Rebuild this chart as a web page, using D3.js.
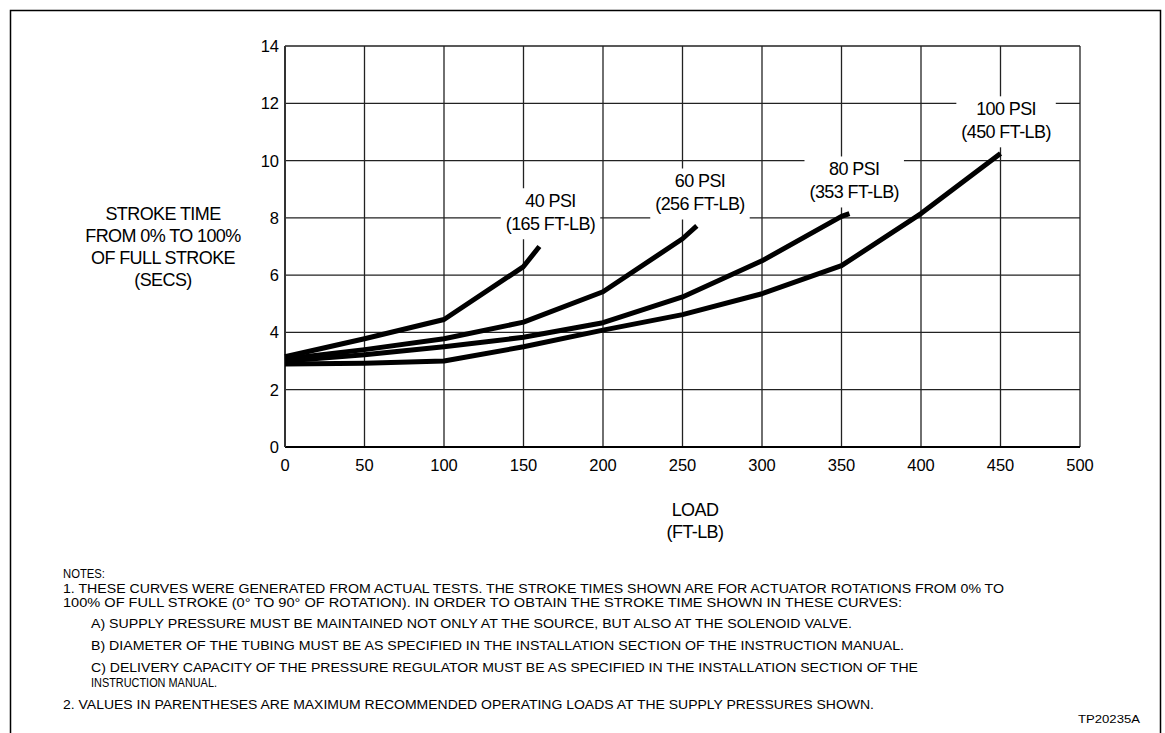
<!DOCTYPE html>
<html>
<head>
<meta charset="utf-8">
<script src="https://cdn.jsdelivr.net/npm/d3@7"></script>
<style>
  body { margin: 0; background: #fff; }
  text { font-family: "Liberation Sans", Arial, sans-serif; fill: #000; }
</style>
</head>
<body>
<div id="chart"></div>
<script>
// Data
const loads40 = [0, 50, 100, 150, 160];
const time40 = [3.15, 3.78, 4.45, 6.3, 7.0];
const loads60 = [0, 50, 100, 150, 200, 250, 259];
const time60 = [3.07, 3.4, 3.78, 4.36, 5.42, 7.27, 7.72];
const loads80 = [0, 50, 100, 150, 200, 250, 300, 350, 355];
const time80 = [3.0, 3.22, 3.5, 3.83, 4.34, 5.24, 6.5, 8.05, 8.15];
const loads100 = [0, 50, 100, 150, 200, 250, 300, 350, 400, 450];
const time100 = [2.9, 2.92, 3.0, 3.5, 4.08, 4.62, 5.35, 6.33, 8.15, 10.25];

const pressures = ["40 PSI", "60 PSI", "80 PSI", "100 PSI"];
const maxLoads = ["(165 FT-LB)", "(256 FT-LB)", "(353 FT-LB)", "(450 FT-LB)"];

const xTicks = [0, 50, 100, 150, 200, 250, 300, 350, 400, 450, 500];
const yTicks = [0, 2, 4, 6, 8, 10, 12, 14];

const yTitle = ["STROKE TIME", "FROM 0% TO 100%", "OF FULL STROKE", "(SECS)"];
const xTitle = ["LOAD", "(FT-LB)"];

const notes = [
  "NOTES:",
  "1. THESE CURVES WERE GENERATED FROM ACTUAL TESTS. THE STROKE TIMES SHOWN ARE FOR ACTUATOR ROTATIONS FROM 0% TO",
  "100% OF FULL STROKE (0\u00B0 TO 90\u00B0 OF ROTATION). IN ORDER TO OBTAIN THE STROKE TIME SHOWN IN THESE CURVES:",
  "A) SUPPLY PRESSURE MUST BE MAINTAINED NOT ONLY AT THE SOURCE, BUT ALSO AT THE SOLENOID VALVE.",
  "B) DIAMETER OF THE TUBING MUST BE AS SPECIFIED IN THE INSTALLATION SECTION OF THE INSTRUCTION MANUAL.",
  "C) DELIVERY CAPACITY OF THE PRESSURE REGULATOR MUST BE AS SPECIFIED IN THE INSTALLATION SECTION OF THE",
  "INSTRUCTION MANUAL.",
  "2. VALUES IN PARENTHESES ARE MAXIMUM RECOMMENDED OPERATING LOADS AT THE SUPPLY PRESSURES SHOWN."
];
const docId = "TP20235A";

// Layout
const W = 1165, H = 733;
const plot = { left: 285, right: 1080, top: 46, bottom: 447 };
// label anchor (data units) for each curve label
const labelAt = [[167, 8.37], [261, 9.06], [358, 9.48], [453.5, 11.58]];
// note line layout: x, baseline, width
const noteLayout = [
  [63, 578, 42], [63, 593, 941], [63, 607, 839], [91, 628, 761],
  [91, 650, 813], [91, 672, 827], [91, 687, 126], [63, 709, 811]
];

const svg = d3.select("#chart").append("svg")
  .attr("width", W).attr("height", H);

// outer frame (open at bottom)
svg.append("path")
  .attr("d", `M10.5,${H} V10.5 H1160.5 V${H}`)
  .attr("fill", "none").attr("stroke", "#000").attr("stroke-width", 1.5);

const x = d3.scaleLinear().domain([0, 500]).range([plot.left, plot.right]);
const y = d3.scaleLinear().domain([0, 14]).range([plot.bottom, plot.top]);

// grid
const grid = svg.append("g").attr("stroke", "#222").attr("stroke-width", 1.3);
grid.selectAll(".gx").data(xTicks).enter().append("line")
  .attr("x1", d => x(d)).attr("x2", d => x(d))
  .attr("y1", plot.top).attr("y2", plot.bottom);
grid.selectAll(".gy").data(yTicks).enter().append("line")
  .attr("x1", plot.left).attr("x2", plot.right)
  .attr("y1", d => y(d)).attr("y2", d => y(d));

// heavier axis lines
svg.append("line").attr("x1", plot.left).attr("x2", plot.right)
  .attr("y1", plot.bottom).attr("y2", plot.bottom)
  .attr("stroke", "#000").attr("stroke-width", 2.2);
svg.append("line").attr("x1", plot.left).attr("x2", plot.left)
  .attr("y1", plot.top).attr("y2", plot.bottom)
  .attr("stroke", "#333").attr("stroke-width", 2);

// tick labels
svg.append("g").selectAll("text").data(xTicks).enter().append("text")
  .attr("x", d => x(d)).attr("y", plot.bottom + 24)
  .attr("text-anchor", "middle").attr("font-size", 16.5)
  .text(d => d);
svg.append("g").selectAll("text").data(yTicks).enter().append("text")
  .attr("x", plot.left - 6).attr("y", d => y(d) + 6)
  .attr("text-anchor", "end").attr("font-size", 16.5)
  .text(d => d);

// axis titles
svg.append("g").selectAll("text").data(yTitle).enter().append("text")
  .attr("x", 163).attr("y", (d, i) => 220 + i * 22)
  .attr("text-anchor", "middle").attr("font-size", 18)
  .attr("letter-spacing", -0.6)
  .text(d => d);
svg.append("g").selectAll("text").data(xTitle).enter().append("text")
  .attr("x", 695).attr("y", (d, i) => 516 + i * 22)
  .attr("text-anchor", "middle").attr("font-size", 18)
  .attr("letter-spacing", -0.6)
  .text(d => d);

// curve labels with white backing boxes
const labels = svg.append("g");
pressures.forEach((p, i) => {
  const g = labels.append("g");
  const bg = g.append("rect").attr("fill", "#fff");
  const cx = x(labelAt[i][0]), by = y(labelAt[i][1]);
  g.append("text").attr("x", cx).attr("y", by)
    .attr("text-anchor", "middle").attr("font-size", 18).attr("letter-spacing", -0.6)
    .text(p);
  g.append("text").attr("x", cx).attr("y", by + 23)
    .attr("text-anchor", "middle").attr("font-size", 18).attr("letter-spacing", -0.6)
    .text(maxLoads[i]);
  const b = g.node().getBBox();
  bg.attr("x", b.x - 5).attr("y", b.y - 3)
    .attr("width", b.width + 10).attr("height", b.height + 8);
});

// curves
const line = d3.line().x(d => x(d[0])).y(d => y(d[1]));
const series = [[loads40, time40], [loads60, time60], [loads80, time80], [loads100, time100]];
svg.append("g").selectAll("path").data(series).enter().append("path")
  .attr("d", s => line(s[0].map((v, i) => [v, s[1][i]])))
  .attr("fill", "none").attr("stroke", "#000")
  .attr("stroke-width", 5).attr("stroke-linejoin", "round");

// notes
svg.append("g").selectAll("text").data(notes).enter().append("text")
  .attr("x", (d, i) => noteLayout[i][0]).attr("y", (d, i) => noteLayout[i][1])
  .attr("font-size", 12)
  .attr("textLength", (d, i) => noteLayout[i][2])
  .attr("lengthAdjust", "spacingAndGlyphs")
  .text(d => d);

svg.append("text").attr("x", 1078).attr("y", 723)
  .attr("font-size", 11.5).attr("textLength", 62)
  .attr("lengthAdjust", "spacingAndGlyphs")
  .text(docId);
</script>
</body>
</html>
